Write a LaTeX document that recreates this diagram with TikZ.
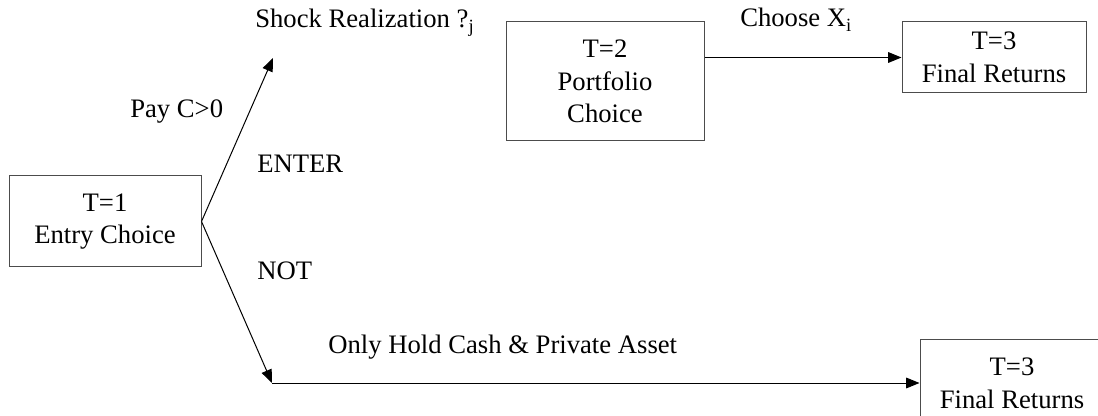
\documentclass[tikz,border=0pt]{standalone}
\usepackage{fontspec}
\setmainfont{Liberation Serif}
\usetikzlibrary{arrows.meta,positioning,calc}

\begin{document}
\begin{tikzpicture}[x=0.75pt,y=-0.75pt,
		font=\fontsize{20}{24.5}\selectfont,
		stage/.style={draw=black!70, line width=0.75pt, align=center, inner sep=0pt},
		arr/.style={line width=0.75pt, -{Triangle[length=10pt,width=8pt]}},
		lbl/.style={anchor=base west, inner sep=0pt}]
		\useasboundingbox (0,0) rectangle (1098,416);
		\clip (0,0) rectangle (1098,416);

		\node[stage, minimum width=144pt, minimum height=68.25pt] (entry) at (105,221.5) {T=1\\Entry Choice};
		\node[stage, minimum width=148.5pt, minimum height=89.25pt] (port) at (605,81.5) {T=2\\Portfolio\\Choice};
		\node[stage, minimum width=138pt, minimum height=53.25pt] (final1) at (994,57.5) {T=3\\Final Returns};
		\node[stage, minimum width=138pt, minimum height=66pt] (final2) at (1012,383) {T=3\\Final Returns};

		\coordinate (enterTip) at (273,58);
		\coordinate (notTip) at (272,383);

		\draw[arr] (entry.east) -- (enterTip);
		\draw[arr] (entry.east) -- (notTip);
		\draw[arr] (notTip) -- (final2.west);
		\draw[arr] (port.east |- final1.west) -- (final1.west);

		\node[lbl] (shock) at (255,28) {Shock Realization ?\textsubscript{j}};
		\node[lbl] (pay) at (130,118) {Pay C>0};
		\node[lbl] (enter) at (257,173) {ENTER};
		\node[lbl] (not) at (257,280) {NOT};
		\node[lbl] (cash) at (328,353) {Only Hold Cash \& Private Asset};
		\node[lbl] (choose) at (740,27) {Choose X\textsubscript{i}};
	\end{tikzpicture}
\end{document}
